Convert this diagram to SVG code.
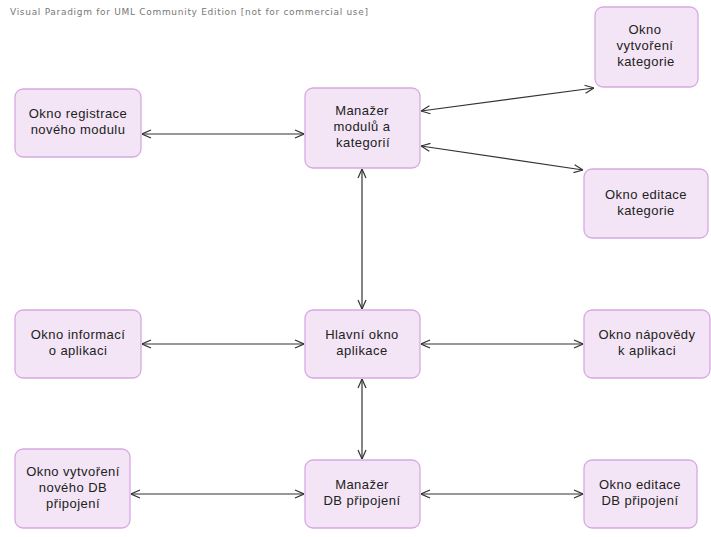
<svg xmlns="http://www.w3.org/2000/svg" width="711" height="537" viewBox="0 0 711 537">
<style>
.n{fill:#F3E5F5;stroke:#D8A8E4;stroke-width:1.3}
.t{font-family:"Liberation Sans",Arial,sans-serif;font-size:13px;letter-spacing:0.45px;fill:#222;text-anchor:middle}
.h{font-family:"DejaVu Sans",Verdana,sans-serif;font-size:9px;fill:#777}
.c{stroke:#333;stroke-width:1.2;fill:none;marker-start:url(#a);marker-end:url(#a)}
</style>
<defs>
<marker id="a" viewBox="0 0 10 10" refX="10" refY="5" markerWidth="10" markerHeight="10" markerUnits="userSpaceOnUse" orient="auto-start-reverse">
<path d="M1,1 L10,5 L1,9" fill="none" stroke="#333" stroke-width="1.2"/>
</marker>
</defs>
<rect width="711" height="537" fill="#fff"/>
<text class="h" x="10" y="15" textLength="358" lengthAdjust="spacing">Visual Paradigm for UML Community Edition [not for commercial use]</text>
<g id="connectors">
<line class="c" x1="142" y1="134" x2="304" y2="134"/>
<line class="c" x1="421" y1="111" x2="594" y2="88"/>
<line class="c" x1="421" y1="146" x2="583" y2="170"/>
<line class="c" x1="362" y1="169" x2="362" y2="309"/>
<line class="c" x1="142" y1="344" x2="304" y2="344"/>
<line class="c" x1="421" y1="344" x2="583" y2="344"/>
<line class="c" x1="362" y1="379" x2="362" y2="459"/>
<line class="c" x1="131" y1="494" x2="304" y2="494"/>
<line class="c" x1="421" y1="494" x2="583" y2="494"/>
</g>
<g id="n1"><rect class="n" x="15" y="89" width="126" height="68" rx="8"/>
<text class="t" x="78" y="118">Okno registrace</text><text class="t" x="78" y="134">nového modulu</text></g>
<g id="n2"><rect class="n" x="305" y="88" width="115" height="80" rx="8"/>
<text class="t" x="362" y="115">Manažer</text><text class="t" x="362" y="131">modulů a</text><text class="t" x="363" y="147">kategorií</text></g>
<g id="n3"><rect class="n" x="595" y="7" width="103" height="80" rx="8"/>
<text class="t" x="645" y="34">Okno</text><text class="t" x="645" y="50">vytvoření</text><text class="t" x="646" y="66">kategorie</text></g>
<g id="n4"><rect class="n" x="584" y="169" width="124" height="69" rx="8"/>
<text class="t" x="646" y="198.5">Okno editace</text><text class="t" x="646" y="214.5">kategorie</text></g>
<g id="n5"><rect class="n" x="15" y="310" width="126" height="68" rx="8"/>
<text class="t" x="78" y="339">Okno informací</text><text class="t" x="78" y="355">o aplikaci</text></g>
<g id="n6"><rect class="n" x="305" y="310" width="115" height="68" rx="8"/>
<text class="t" x="362" y="339">Hlavní okno</text><text class="t" x="362" y="355">aplikace</text></g>
<g id="n7"><rect class="n" x="584" y="310" width="126" height="68" rx="8"/>
<text class="t" x="647" y="339">Okno nápovědy</text><text class="t" x="647" y="355">k aplikaci</text></g>
<g id="n8"><rect class="n" x="15" y="449" width="115" height="79" rx="8"/>
<text class="t" x="73" y="475.5">Okno vytvoření</text><text class="t" x="73" y="491.5">nového DB</text><text class="t" x="73" y="507.5">připojení</text></g>
<g id="n9"><rect class="n" x="305" y="460" width="115" height="68" rx="8"/>
<text class="t" x="362" y="489">Manažer</text><text class="t" x="362" y="505">DB připojení</text></g>
<g id="n10"><rect class="n" x="584" y="460" width="113" height="68" rx="8"/>
<text class="t" x="640" y="489">Okno editace</text><text class="t" x="640" y="505">DB připojení</text></g>
</svg>
